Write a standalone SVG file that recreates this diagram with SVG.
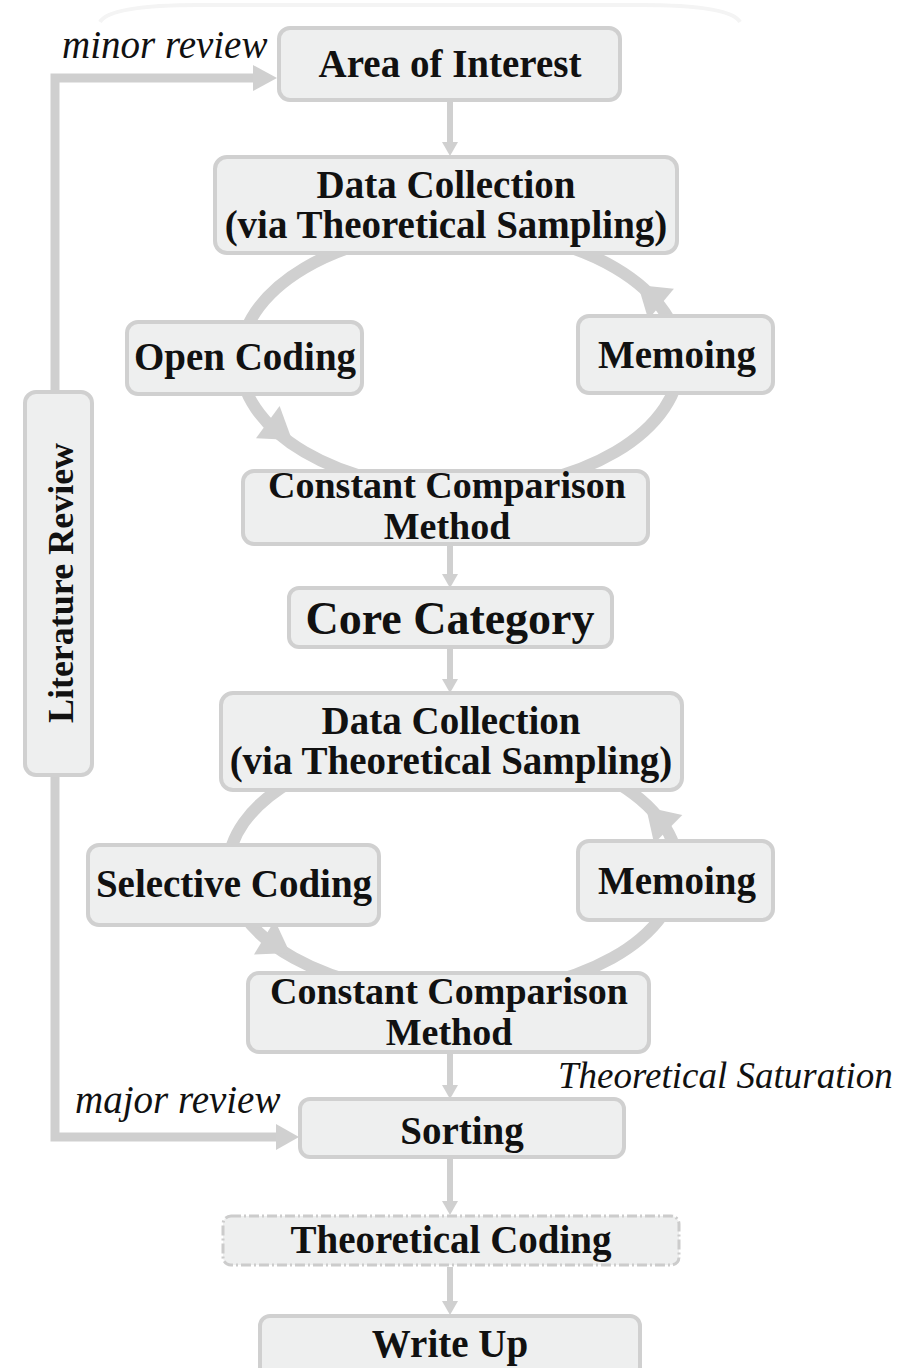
<svg xmlns="http://www.w3.org/2000/svg" width="922" height="1368" viewBox="0 0 922 1368">
<style>
.box{fill:#eeefef;stroke:#d0d0d0;stroke-width:4}
.dash{fill:#eeefef;stroke:#cccccc;stroke-width:3;stroke-dasharray:10,3,2,3}
.t{font-family:"Liberation Serif","Times New Roman",serif;font-weight:bold;font-size:39px;fill:#111;text-anchor:middle}
.t2{font-size:38px}
.it{font-family:"Liberation Serif","Times New Roman",serif;font-style:italic;font-size:39px;fill:#111}
.cyc{fill:none;stroke:#d0d0d0;stroke-width:12}
.ln{fill:none;stroke:#d0d0d0;stroke-width:6}
.side{fill:none;stroke:#cfcfcf;stroke-width:9}
.ah{fill:#d0d0d0}
</style>
<rect width="922" height="1368" fill="#ffffff"/>
<path d="M 100 22 Q 110 5 200 5 L 640 5 Q 730 5 740 22" fill="none" stroke="#f4f4f4" stroke-width="4"/>
<g id="connectors">
  <ellipse class="cyc" cx="460" cy="360" rx="220" ry="130"/>
  <polygon class="ah" points="638,285 673.9,288.7 648.3,319.5"/>
  <polygon class="ah" points="292,440 256,438.3 279.6,406.1"/>
  <ellipse class="cyc" cx="453" cy="869" rx="225" ry="126"/>
  <polygon class="ah" points="646,807 682.3,815 654.1,843.4"/>
  <polygon class="ah" points="290,953 254,954.5 274.8,920.3"/>
  <line class="ln" x1="450" y1="102" x2="450" y2="143"/>
  <polygon class="ah" points="442,142 458,142 450,156"/>
  <line class="ln" x1="450" y1="546" x2="450" y2="575"/>
  <polygon class="ah" points="442,574 458,574 450,588"/>
  <line class="ln" x1="450" y1="649" x2="450" y2="680"/>
  <polygon class="ah" points="442,679 458,679 450,693"/>
  <line class="ln" x1="450" y1="1054" x2="450" y2="1086"/>
  <polygon class="ah" points="442,1085 458,1085 450,1099"/>
  <line class="ln" x1="450" y1="1159" x2="450" y2="1202"/>
  <polygon class="ah" points="442,1201 458,1201 450,1215"/>
  <line class="ln" x1="450" y1="1267" x2="450" y2="1302"/>
  <polygon class="ah" points="442,1301 458,1301 450,1315"/>
  <polyline class="side" points="55,394 55,78 256,78"/>
  <polygon class="ah" fill="#cfcfcf" points="253,65 277,78 253,91"/>
  <polyline class="side" points="55,773 55,1137 278,1137"/>
  <polygon class="ah" fill="#cfcfcf" points="276,1124 299,1137 276,1150"/>
</g>
<g id="n-area"><rect class="box" x="279" y="28" width="341" height="72" rx="11"/><text class="t" x="450" y="77">Area of Interest</text></g>
<g id="n-dc1"><rect class="box" x="215" y="157" width="462" height="96" rx="12"/><text class="t" x="446" y="198">Data Collection</text><text class="t" x="446" y="238">(via Theoretical Sampling)</text></g>
<g id="n-open"><rect class="box" x="127" y="322" width="235" height="72" rx="11"/><text class="t" x="245" y="370">Open Coding</text></g>
<g id="n-memo1"><rect class="box" x="578" y="316" width="195" height="77" rx="11"/><text class="t" x="677" y="368">Memoing</text></g>
<g id="n-ccm1"><rect class="box" x="243" y="471" width="405" height="73" rx="11"/><text class="t t2" x="447" y="498">Constant Comparison</text><text class="t t2" x="447" y="539">Method</text></g>
<g id="n-core"><rect class="box" x="289" y="588" width="323" height="59" rx="10"/><text class="t" x="450" y="634" style="font-size:46px">Core Category</text></g>
<g id="n-dc2"><rect class="box" x="221" y="693" width="461" height="97" rx="12"/><text class="t" x="451" y="734">Data Collection</text><text class="t" x="451" y="774">(via Theoretical Sampling)</text></g>
<g id="n-sel"><rect class="box" x="88" y="845" width="291" height="80" rx="11"/><text class="t" x="234" y="897">Selective Coding</text></g>
<g id="n-memo2"><rect class="box" x="578" y="841" width="195" height="79" rx="11"/><text class="t" x="677" y="894">Memoing</text></g>
<g id="n-ccm2"><rect class="box" x="248" y="973" width="401" height="79" rx="11"/><text class="t t2" x="449" y="1004">Constant Comparison</text><text class="t t2" x="449" y="1045">Method</text></g>
<g id="n-sort"><rect class="box" x="300" y="1099" width="324" height="58" rx="10"/><text class="t" x="462" y="1144">Sorting</text></g>
<g id="n-tc"><rect class="dash" x="223" y="1216" width="456" height="49" rx="8"/><text class="t" x="451" y="1253">Theoretical Coding</text></g>
<g id="n-wu"><rect class="box" x="260" y="1316" width="380" height="62" rx="10"/><text class="t" x="450" y="1357">Write Up</text></g>
<g id="n-lit"><rect class="box" x="25" y="392" width="67" height="383" rx="11"/><text class="t" transform="translate(73,583) rotate(-90)" x="0" y="0" style="font-size:36px">Literature Review</text></g>
<g id="labels">
  <text class="it" x="62" y="58">minor review</text>
  <text class="it" x="75" y="1113">major review</text>
  <text class="it" x="558" y="1088" style="font-size:37px">Theoretical Saturation</text>
</g>
</svg>
